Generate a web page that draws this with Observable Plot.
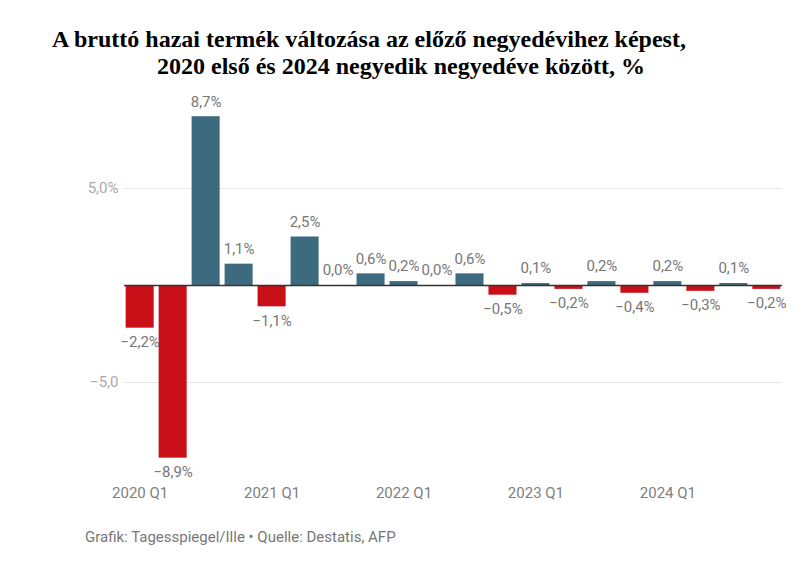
<!DOCTYPE html>
<html>
<head>
<meta charset="utf-8">
<script src="https://cdn.jsdelivr.net/npm/d3@7"></script>
<script src="https://cdn.jsdelivr.net/npm/@observablehq/plot@0.6"></script>
<style>
  body { margin: 0; background: #fff; width: 812px; height: 566px; overflow: hidden; }
  .title { font-family: "Liberation Serif", "Times New Roman", serif; font-weight: bold; font-size: 24px; color: #000; line-height: 27px; padding-top: 26px; height: 54px; }
  .title div { white-space: nowrap; }
  #chart { height: 429px; }
  .footer { font-family: Roboto, sans-serif; font-size: 15px; color: #777; padding-left: 85px; margin-top: 19px; }
</style>
</head>
<body>
<div class="title">
  <div id="t1" style="padding-left:52px">A bruttó hazai termék változása az előző negyedévihez képest,</div>
  <div id="t2" style="padding-left:157px">2020 első és 2024 negyedik negyedéve között, %</div>
</div>
<div id="chart"></div>
<div class="footer">Grafik: Tagesspiegel/Ille • Quelle: Destatis, AFP</div>
<script>
const quarters = [
  "2020 Q1","2020 Q2","2020 Q3","2020 Q4",
  "2021 Q1","2021 Q2","2021 Q3","2021 Q4",
  "2022 Q1","2022 Q2","2022 Q3","2022 Q4",
  "2023 Q1","2023 Q2","2023 Q3","2023 Q4",
  "2024 Q1","2024 Q2","2024 Q3","2024 Q4"
];
const values = [-2.2, -8.9, 8.7, 1.1, -1.1, 2.5, 0.0, 0.6, 0.2, 0.0, 0.6, -0.5, 0.1, -0.2, 0.2, -0.4, 0.2, -0.3, 0.1, -0.2];
const xTicks = ["2020 Q1","2021 Q1","2022 Q1","2023 Q1","2024 Q1"];
const yTicks = [-5, 5];
const yTickLabels = ["−5,0", "5,0%"];

const data = quarters.map((q, i) => ({q, v: values[i]}));
const fmt = v => (v < 0 ? "−" : "") + Math.abs(v).toFixed(1).replace(".", ",") + "%";
const blue = "#3c6a7e", red = "#c90f18";

const chart = Plot.plot({
  width: 812,
  height: 429,
  marginLeft: 124,
  marginRight: 30,
  marginTop: 11,
  marginBottom: 30,
  style: {fontFamily: "Roboto, sans-serif", fontSize: "15px", background: "#fff"},
  x: {domain: quarters, paddingInner: 0.15, paddingOuter: 0.05, round: false, label: null},
  y: {domain: [-10, 10], label: null},
  marks: [
    Plot.ruleY(yTicks, {stroke: "#e6e6e6", strokeWidth: 1}),
    Plot.barY(data, {x: "q", y: "v", fill: d => d.v < 0 ? red : blue}),
    Plot.ruleY([0], {stroke: "#333", strokeWidth: 1.5}),
    Plot.text(data.filter(d => d.v >= 0), {x: "q", y: "v", text: d => fmt(d.v), dy: -15, fill: "#777", fontSize: 15, lineAnchor: "middle"}),
    Plot.text(data.filter(d => d.v < 0), {x: "q", y: "v", text: d => fmt(d.v), dy: 14, fill: "#777", fontSize: 15, lineAnchor: "middle"}),
    Plot.axisY({ticks: yTicks, tickFormat: (d) => yTickLabels[yTicks.indexOf(d)], tickSize: 0, tickPadding: 6, color: "#aaa", fontSize: 15}),
    Plot.axisX({ticks: xTicks, tickSize: 0, tickPadding: 8, color: "#808080", fontSize: 15})
  ]
});
document.getElementById("chart").appendChild(chart);
</script>
</body>
</html>
